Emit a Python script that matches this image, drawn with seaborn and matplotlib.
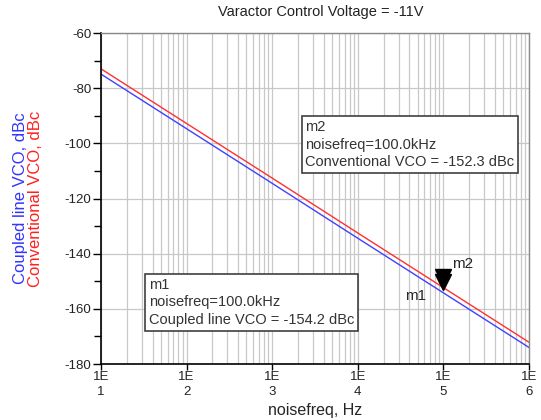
import numpy as np
import pandas as pd
import matplotlib
matplotlib.use('Agg')
import matplotlib.pyplot as plt
import matplotlib.transforms as mtransforms
from matplotlib.ticker import LogLocator, MultipleLocator, NullFormatter
import seaborn as sns

# data (one point per decade, lines are straight on log x)
noisefreq = [1e1, 1e2, 1e3, 1e4, 1e5, 1e6]
conventional = [-73.0, -92.8, -112.6, -132.5, -152.3, -172.1]
coupled = [-74.9, -94.7, -114.5, -134.4, -154.2, -174.0]
x_ticks = [1e1, 1e2, 1e3, 1e4, 1e5, 1e6]
x_ticklabels = ['1E\n1', '1E\n2', '1E\n3', '1E\n4', '1E\n5', '1E\n6']
y_ticks = [-60, -80, -100, -120, -140, -160, -180]
marker_freq = 1e5
m1_value = -154.2
m2_value = -152.3

df = pd.DataFrame({'noisefreq': noisefreq,
                   'Conventional VCO': conventional,
                   'Coupled line VCO': coupled})

sns.set_style('white')
plt.rcParams['font.family'] = ['Liberation Sans', 'DejaVu Sans']

fig = plt.figure(figsize=(5.41, 4.20), dpi=100)
ax = fig.add_axes([0.1867, 0.1333, 0.9778 - 0.1867, 0.9214 - 0.1333])

sns.lineplot(data=df, x='noisefreq', y='Coupled line VCO', color='#4040ff', lw=1.0, ax=ax)
sns.lineplot(data=df, x='noisefreq', y='Conventional VCO', color='#ff3030', lw=1.0, ax=ax)

ax.set_xscale('log')
ax.set_xlim(1e1, 1e6)
ax.set_ylim(-180, -60)

# grid: every decade subdivision vertically, majors only horizontally
ax.xaxis.set_major_locator(LogLocator(base=10))
ax.xaxis.set_minor_locator(LogLocator(base=10, subs=np.arange(2, 10)))
ax.xaxis.set_minor_formatter(NullFormatter())
ax.set_xticks(x_ticks)
ax.set_xticklabels(x_ticklabels, fontsize=9.5, linespacing=1.3, color='#222222')
ax.set_yticks(y_ticks)
ax.set_yticklabels([str(v) for v in y_ticks], fontsize=9.5, color='#222222')
ax.yaxis.set_minor_locator(MultipleLocator(10))
ax.grid(True, which='major', axis='both', color='#c8c8c8', lw=0.9)
ax.grid(True, which='minor', axis='x', color='#c8c8c8', lw=0.9)
ax.set_axisbelow(True)

ax.tick_params(axis='x', which='major', bottom=True, direction='out', length=4, width=1,
               color='black', pad=1)
ax.tick_params(axis='x', which='minor', bottom=False, length=0)
ax.tick_params(axis='y', which='major', left=True, direction='out', length=6, width=1,
               color='black', pad=1)
ax.tick_params(axis='y', which='minor', left=True, direction='out', length=5, width=1,
               color='black')

for side in ['left', 'bottom']:
    ax.spines[side].set_color('black')
    ax.spines[side].set_linewidth(1.2)
for side in ['top', 'right']:
    ax.spines[side].set_color('#888888')
    ax.spines[side].set_linewidth(1.0)

ax.set_xlabel('noisefreq, Hz', fontsize=11.5, labelpad=4)
ax.set_ylabel('')
fig.text(0.037, 0.527, 'Coupled line VCO, dBc', color='#3333ff', fontsize=12,
         rotation=90, ha='center', va='center')
fig.text(0.066, 0.527, 'Conventional VCO, dBc', color='#ff2020', fontsize=12,
         rotation=90, ha='center', va='center')
fig.text(0.592, 0.972, 'Varactor Control Voltage = -11V', fontsize=10.5,
         ha='center', va='center', color='#222222')

# markers: triangles sitting on the traces, tip at the data point
up = mtransforms.offset_copy(ax.transData, fig=fig, x=0, y=7.5, units='points')
ax.plot([marker_freq], [m2_value], marker='v', ms=11, color='black', transform=up, zorder=5)
ax.plot([marker_freq], [m1_value], marker='v', ms=11, color='black', transform=up, zorder=5)
ax.annotate('m2', (marker_freq, m2_value), xytext=(14, 17), textcoords='offset points',
            fontsize=11, ha='center', va='center')
ax.annotate('m1', (marker_freq, m1_value), xytext=(-20, -2), textcoords='offset points',
            fontsize=11, ha='center', va='center')

box = dict(boxstyle='square,pad=0.25', fc='white', ec='#404040', lw=1.2)
ax.text(0.477, 0.663,
        'm2\nnoisefreq=100.0kHz\nConventional VCO = -152.3 dBc',
        transform=ax.transAxes, fontsize=10.5, color='#333333', va='center', ha='left',
        linespacing=1.35, bbox=box)
ax.text(0.112, 0.186,
        'm1\nnoisefreq=100.0kHz\nCoupled line VCO = -154.2 dBc',
        transform=ax.transAxes, fontsize=10.5, color='#333333', va='center', ha='left',
        linespacing=1.35, bbox=box)

fig.savefig('out.png', dpi=100)
